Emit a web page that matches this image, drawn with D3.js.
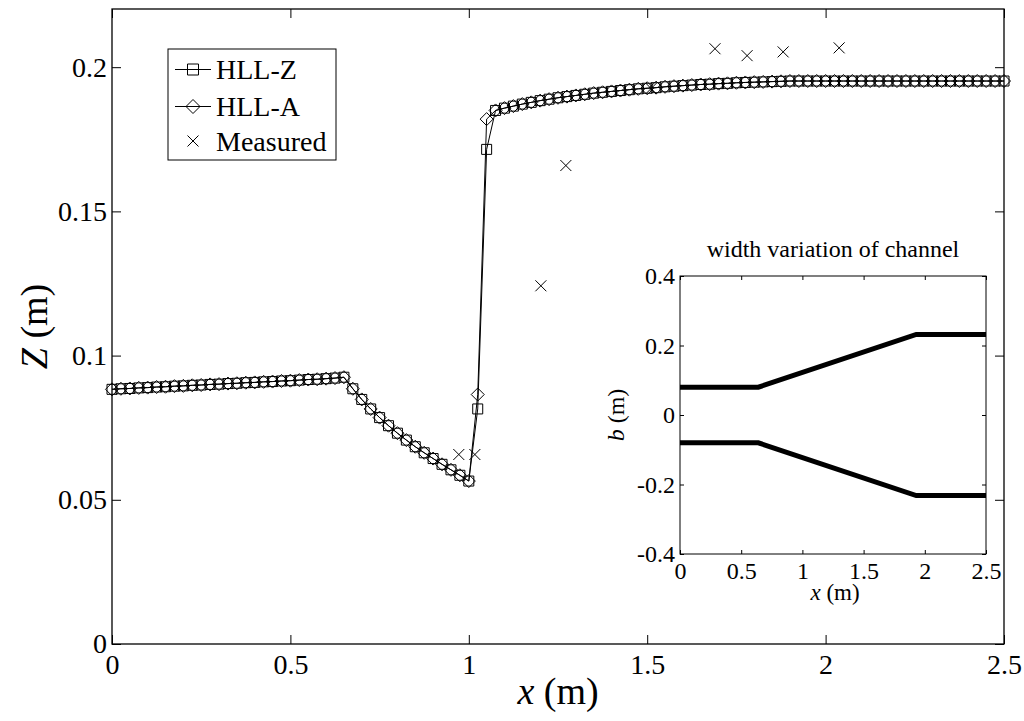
<!DOCTYPE html>
<html>
<head>
<meta charset="utf-8">
<script src="https://cdn.jsdelivr.net/npm/d3@7"></script>
<style>
  body { margin: 0; background: #fff; }
  svg { display: block; }
  text { font-family: "Liberation Serif", "Times New Roman", serif; fill: #000; }
</style>
</head>
<body>
<svg id="chart" width="1024" height="721"></svg>
<script>
// grid points (m)
const xNodes = [
  0, 0.025, 0.05, 0.075, 0.1, 0.125, 0.15, 0.175, 0.2, 0.225,
  0.25, 0.275, 0.3, 0.325, 0.35, 0.375, 0.4, 0.425, 0.45, 0.475,
  0.5, 0.525, 0.55, 0.575, 0.6, 0.625, 0.65, 0.675, 0.7, 0.725,
  0.75, 0.775, 0.8, 0.825, 0.85, 0.875, 0.9, 0.925, 0.95, 0.975,
  1, 1.025, 1.05, 1.075, 1.1, 1.125, 1.15, 1.175, 1.2, 1.225,
  1.25, 1.275, 1.3, 1.325, 1.35, 1.375, 1.4, 1.425, 1.45, 1.475,
  1.5, 1.525, 1.55, 1.575, 1.6, 1.625, 1.65, 1.675, 1.7, 1.725,
  1.75, 1.775, 1.8, 1.825, 1.85, 1.875, 1.9, 1.925, 1.95, 1.975,
  2, 2.025, 2.05, 2.075, 2.1, 2.125, 2.15, 2.175, 2.2, 2.225,
  2.25, 2.275, 2.3, 2.325, 2.35, 2.375, 2.4, 2.425, 2.45, 2.475,
  2.5
];

const hllZ = [
  0.0883, 0.0885, 0.0886, 0.0888, 0.0889, 0.0891, 0.0892, 0.0894, 0.0895, 0.0897,
  0.0898, 0.0900, 0.0901, 0.0903, 0.0904, 0.0906, 0.0907, 0.0909, 0.0910, 0.0912,
  0.0913, 0.0915, 0.0917, 0.0918, 0.0920, 0.0922, 0.0925, 0.0885, 0.0848, 0.0815,
  0.0785, 0.0757, 0.0731, 0.0707, 0.0684, 0.0663, 0.0643, 0.0623, 0.0604, 0.0585,
  0.0565, 0.0815, 0.1715, 0.1850, 0.1858, 0.1865, 0.1872, 0.1878, 0.1884, 0.1889,
  0.1894, 0.1898, 0.1902, 0.1906, 0.1910, 0.1913, 0.1916, 0.1919, 0.1922, 0.1925,
  0.1927, 0.1929, 0.1932, 0.1934, 0.1936, 0.1938, 0.1940, 0.1941, 0.1943, 0.1944,
  0.1946, 0.1947, 0.1948, 0.1949, 0.1950, 0.1951, 0.1952, 0.1952, 0.1952, 0.1952,
  0.1952, 0.1952, 0.1952, 0.1952, 0.1952, 0.1952, 0.1952, 0.1952, 0.1952, 0.1952,
  0.1952, 0.1952, 0.1952, 0.1952, 0.1952, 0.1952, 0.1952, 0.1952, 0.1952, 0.1952,
  0.1952
];

const hllA = [
  0.0883, 0.0885, 0.0886, 0.0888, 0.0889, 0.0891, 0.0892, 0.0894, 0.0895, 0.0897,
  0.0898, 0.0900, 0.0901, 0.0903, 0.0904, 0.0906, 0.0907, 0.0909, 0.0910, 0.0912,
  0.0913, 0.0915, 0.0917, 0.0918, 0.0920, 0.0922, 0.0925, 0.0885, 0.0848, 0.0815,
  0.0785, 0.0757, 0.0731, 0.0707, 0.0684, 0.0663, 0.0643, 0.0623, 0.0604, 0.0585,
  0.0565, 0.0865, 0.1820, 0.1850, 0.1858, 0.1865, 0.1872, 0.1878, 0.1884, 0.1889,
  0.1894, 0.1898, 0.1902, 0.1906, 0.1910, 0.1913, 0.1916, 0.1919, 0.1922, 0.1925,
  0.1927, 0.1929, 0.1932, 0.1934, 0.1936, 0.1938, 0.1940, 0.1941, 0.1943, 0.1944,
  0.1946, 0.1947, 0.1948, 0.1949, 0.1950, 0.1951, 0.1952, 0.1952, 0.1952, 0.1952,
  0.1952, 0.1952, 0.1952, 0.1952, 0.1952, 0.1952, 0.1952, 0.1952, 0.1952, 0.1952,
  0.1952, 0.1952, 0.1952, 0.1952, 0.1952, 0.1952, 0.1952, 0.1952, 0.1952, 0.1952,
  0.1952
];

const measX = [0.972, 1.017, 1.202, 1.272, 1.511, 1.690, 1.780, 1.881, 2.038];
const measZ = [0.0657, 0.0657, 0.1242, 0.1659, 0.1926, 0.2064, 0.2040, 0.2053, 0.2067];

// channel half-width for the inset
const chanX = [0, 0.64, 1.93, 2.5];
const chanUpper = [0.08, 0.08, 0.232, 0.232];
const chanLower = [-0.08, -0.08, -0.232, -0.232];

const xTicks = [0, 0.5, 1, 1.5, 2, 2.5];
const yTicks = [0, 0.05, 0.1, 0.15, 0.2];
const insetXTicks = [0, 0.5, 1, 1.5, 2, 2.5];
const insetYTicks = [-0.4, -0.2, 0, 0.2, 0.4];

const svg = d3.select('#chart');

const main = { left: 112, right: 1004, top: 9, bottom: 644 };
const ins = { left: 680, right: 986, top: 276, bottom: 554 };

const xScale = d3.scaleLinear().domain([0, 2.5]).range([main.left, main.right]);
const yScale = d3.scaleLinear().domain([0, 0.22]).range([main.bottom, main.top + 0.5]);

const fmt = d => String(d);

function drawAxes(g, xs, ys, box, xt, yt, opts) {
    g.append('rect')
        .attr('x', box.left).attr('y', box.top)
        .attr('width', box.right - box.left).attr('height', box.bottom - box.top)
        .attr('fill', '#fff');

    const bottom = g.append('g')
        .attr('transform', `translate(0,${box.bottom})`)
        .call(d3.axisBottom(xs).tickValues(xt).tickFormat(fmt)
            .tickSizeInner(-opts.tick).tickSizeOuter(0).tickPadding(opts.padX));
    const top = g.append('g')
        .attr('transform', `translate(0,${box.top})`)
        .call(d3.axisTop(xs).tickValues(xt).tickFormat('')
            .tickSizeInner(-opts.tick).tickSizeOuter(0));
    const left = g.append('g')
        .attr('transform', `translate(${box.left},0)`)
        .call(d3.axisLeft(ys).tickValues(yt).tickFormat(fmt)
            .tickSizeInner(-opts.tick).tickSizeOuter(0).tickPadding(opts.padY));
    const right = g.append('g')
        .attr('transform', `translate(${box.right},0)`)
        .call(d3.axisRight(ys).tickValues(yt).tickFormat('')
            .tickSizeInner(-opts.tick).tickSizeOuter(0));

    [bottom, top, left, right].forEach(a => {
        a.attr('font-family', null);
        a.select('.domain').remove();
        a.selectAll('line').attr('stroke', '#000').attr('stroke-width', 1);
        a.selectAll('text')
            .style('font-family', '"Liberation Serif", serif')
            .style('font-size', opts.font + 'px')
            .attr('fill', '#000');
    });

    g.append('rect')
        .attr('x', box.left).attr('y', box.top)
        .attr('width', box.right - box.left).attr('height', box.bottom - box.top)
        .attr('fill', 'none')
        .attr('stroke', '#000')
        .attr('stroke-width', opts.frame);
}

// main axes
const mainG = svg.append('g');
drawAxes(mainG, xScale, yScale, main, xTicks, yTicks,
    { tick: 9, padX: 10, padY: 5, font: 28, frame: 1.3 });

const squarePath = s => `M${-s},${-s}H${s}V${s}H${-s}Z`;
const diamondPath = s => `M0,${-s}L${s},0L0,${s}L${-s},0Z`;
const crossPath = s => `M${-s},${-s}L${s},${s}M${-s},${s}L${s},${-s}`;

const zData = xNodes.map((x, i) => ({ x, y: hllZ[i] }));
const aData = xNodes.map((x, i) => ({ x, y: hllA[i] }));
const mData = measX.map((x, i) => ({ x, y: measZ[i] }));

const line = d3.line().x(d => xScale(d.x)).y(d => yScale(d.y));

mainG.append('path')
    .datum(zData)
    .attr('d', line)
    .attr('fill', 'none')
    .attr('stroke', '#000')
    .attr('stroke-width', 1);

mainG.selectAll('path.sq')
    .data(zData)
    .enter()
    .append('path')
    .attr('class', 'sq')
    .attr('transform', d => `translate(${xScale(d.x)},${yScale(d.y)})`)
    .attr('d', squarePath(5))
    .attr('fill', 'none')
    .attr('stroke', '#000')
    .attr('stroke-width', 1);

mainG.append('path')
    .datum(aData)
    .attr('d', line)
    .attr('fill', 'none')
    .attr('stroke', '#000')
    .attr('stroke-width', 1);

mainG.selectAll('path.dm')
    .data(aData)
    .enter()
    .append('path')
    .attr('class', 'dm')
    .attr('transform', d => `translate(${xScale(d.x)},${yScale(d.y)})`)
    .attr('d', diamondPath(6.5))
    .attr('fill', 'none')
    .attr('stroke', '#000')
    .attr('stroke-width', 1);

mainG.selectAll('path.ms')
    .data(mData)
    .enter()
    .append('path')
    .attr('class', 'ms')
    .attr('transform', d => `translate(${xScale(d.x)},${yScale(d.y)})`)
    .attr('d', crossPath(5.5))
    .attr('fill', 'none')
    .attr('stroke', '#000')
    .attr('stroke-width', 1);

// axis labels
svg.append('text')
    .attr('x', (main.left + main.right) / 2)
    .attr('y', 704)
    .attr('text-anchor', 'middle')
    .style('font-size', '38px')
    .html('<tspan font-style="italic">x</tspan> (m)');

svg.append('text')
    .attr('transform', `translate(47,${(main.top + main.bottom) / 2}) rotate(-90)`)
    .attr('text-anchor', 'middle')
    .style('font-size', '38px')
    .html('<tspan font-style="italic">Z</tspan> (m)');

// legend
const legend = svg.append('g');
legend.append('rect')
    .attr('x', 168).attr('y', 49)
    .attr('width', 168).attr('height', 111)
    .attr('fill', '#fff')
    .attr('stroke', '#000')
    .attr('stroke-width', 1);

const legendItems = [
    { label: 'HLL-Z', path: squarePath(5.5), line: true, y: 69.5 },
    { label: 'HLL-A', path: diamondPath(7), line: true, y: 106.5 },
    { label: 'Measured', path: crossPath(5.5), line: false, y: 141 }
];

legendItems.forEach(item => {
    if (item.line) {
        legend.append('line')
            .attr('x1', 175).attr('x2', 211)
            .attr('y1', item.y).attr('y2', item.y)
            .attr('stroke', '#000').attr('stroke-width', 1);
    }
    legend.append('path')
        .attr('transform', `translate(193,${item.y})`)
        .attr('d', item.path)
        .attr('fill', 'none')
        .attr('stroke', '#000')
        .attr('stroke-width', 1);
    legend.append('text')
        .attr('x', 216)
        .attr('y', item.y + 9.5)
        .style('font-size', '28px')
        .text(item.label);
});

// inset: channel width
const ixScale = d3.scaleLinear().domain([0, 2.5]).range([ins.left, ins.right]);
const iyScale = d3.scaleLinear().domain([-0.4, 0.4]).range([ins.bottom, ins.top]);

const insetG = svg.append('g');
drawAxes(insetG, ixScale, iyScale, ins, insetXTicks, insetYTicks,
    { tick: 4, padX: 8, padY: 5, font: 24, frame: 1 });

const chanLine = d3.line().x(d => ixScale(d.x)).y(d => iyScale(d.y));
[chanUpper, chanLower].forEach(arr => {
    insetG.append('path')
        .datum(chanX.map((x, i) => ({ x, y: arr[i] })))
        .attr('d', chanLine)
        .attr('fill', 'none')
        .attr('stroke', '#000')
        .attr('stroke-width', 5);
});

insetG.append('text')
    .attr('x', (ins.left + ins.right) / 2)
    .attr('y', 257)
    .attr('text-anchor', 'middle')
    .style('font-size', '24px')
    .text('width variation of channel');

insetG.append('text')
    .attr('x', (ins.left + ins.right) / 2 + 2)
    .attr('y', 600)
    .attr('text-anchor', 'middle')
    .style('font-size', '23px')
    .html('<tspan font-style="italic">x</tspan> (m)');

insetG.append('text')
    .attr('transform', `translate(624,${(ins.top + ins.bottom) / 2}) rotate(-90)`)
    .attr('text-anchor', 'middle')
    .style('font-size', '24px')
    .html('<tspan font-style="italic">b</tspan> (m)');
</script>
</body>
</html>
